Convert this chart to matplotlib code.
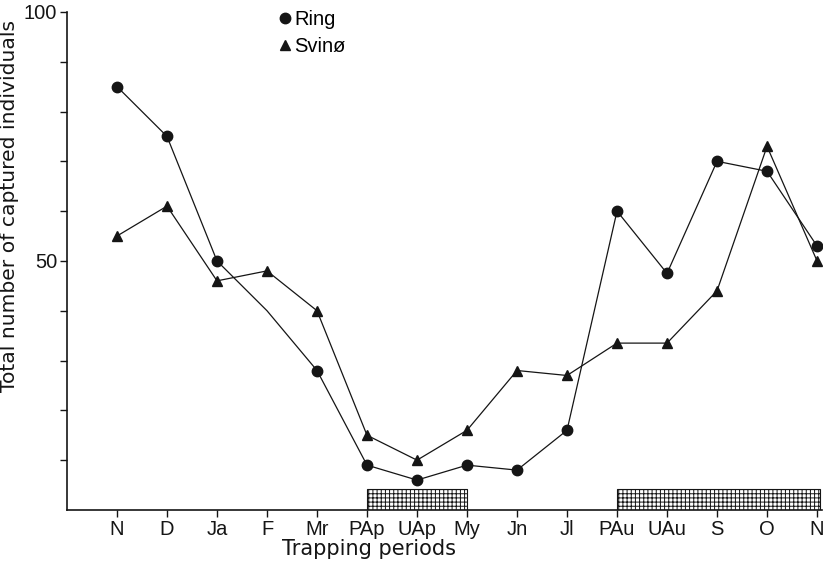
import numpy as np
import matplotlib
matplotlib.use("Agg")
import matplotlib.pyplot as plt

plt.rcParams["font.family"] = ["Liberation Sans", "DejaVu Sans"]
plt.rcParams["hatch.linewidth"] = 0.7

periods = ["N", "D", "Ja", "F", "Mr", "PAp", "UAp", "My", "Jn", "Jl",
           "PAu", "UAu", "S", "O", "N"]
ring = [85, 75, 50, 40, 28, 9, 6, 9, 8, 16, 60, 47.5, 70, 68, 53]
svino = [55, 61, 46, 48, 40, 15, 10, 16, 28, 27, 33.5, 33.5, 44, 73, 50]
ring_marked = [0, 1, 2, 4, 5, 6, 7, 8, 9, 10, 11, 12, 13, 14]
shaded_start = [6, 11]
shaded_end = [8, 15.05]
shaded_height = 4.3

x = np.arange(1, len(periods) + 1)
ink = "#151515"

fig = plt.figure(figsize=(8.27, 5.66), dpi=100)
ax = fig.add_axes([0.081, 0.099, 0.913, 0.88])

for s, e in zip(shaded_start, shaded_end):
    ax.bar(s, shaded_height, width=e - s, align="edge", bottom=0,
           color="white", edgecolor=ink, hatch="++++", linewidth=0.8, zorder=1)

ax.plot(x, ring, color=ink, lw=0.9, marker="o", ms=7.5,
        markevery=ring_marked, label="Ring", zorder=3)
ax.plot(x, svino, color=ink, lw=0.9, marker="^", ms=7.5,
        label="Svinø", zorder=3)

ax.set_xlim(0, 15.1)
ax.set_ylim(0, 100)
ax.set_xticks(x)
ax.set_xticklabels(periods, fontsize=14.5)
ax.set_yticks(np.arange(10, 101, 10))
ax.set_yticklabels(["" if v not in (50, 100) else str(v)
                    for v in range(10, 101, 10)], fontsize=14.5)
ax.tick_params(axis="both", direction="out", length=5, width=1, color=ink,
               labelcolor=ink, pad=2)

for side in ["top", "right"]:
    ax.spines[side].set_visible(False)
for side in ["left", "bottom"]:
    ax.spines[side].set_linewidth(1.2)
    ax.spines[side].set_color(ink)

wide = ["DejaVu Sans"]
ax.set_ylabel("Total number of captured individuals", fontsize=14.6,
              color=ink, family=wide)
ax.yaxis.set_label_coords(-0.063, 0.61)
ax.set_xlabel("Trapping periods", fontsize=15, color=ink, family=wide)
ax.xaxis.set_label_coords(0.4, -0.058)

leg = ax.legend(loc="upper left", bbox_to_anchor=(0.272, 1.02), frameon=False,
                handlelength=0.5, handletextpad=0.2, borderaxespad=0,
                labelspacing=0.42, fontsize=14.5)
for h in leg.legend_handles:
    h.set_linestyle("none")

fig.savefig("out.png", dpi=100)
